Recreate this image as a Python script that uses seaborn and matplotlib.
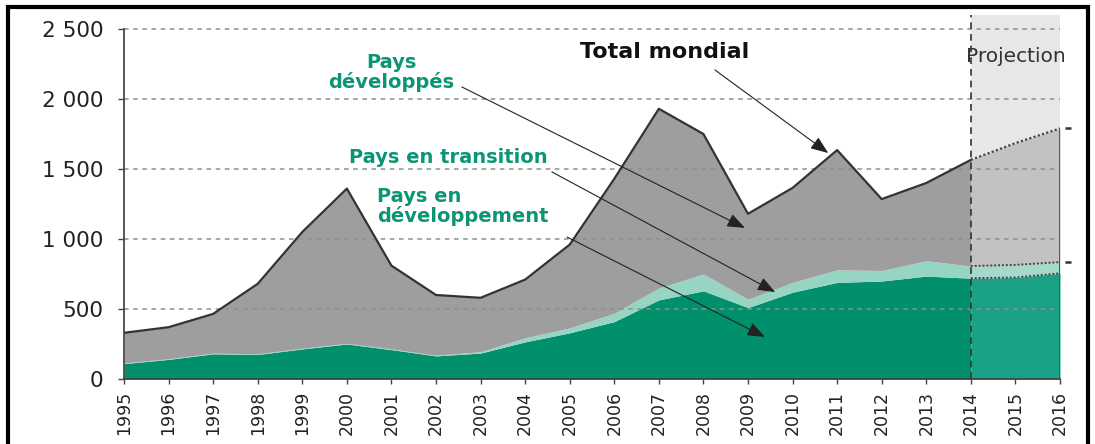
import numpy as np
import matplotlib
matplotlib.use("Agg")
import matplotlib.pyplot as plt
import seaborn as sns
import pandas as pd
from matplotlib.patches import Rectangle

# ---- data ----
years = list(range(1995, 2017))
total = [330, 370, 465, 680, 1050, 1360, 810, 600, 580, 710, 960, 1430,
         1930, 1750, 1180, 1365, 1635, 1285, 1400, 1565, 1685, 1790]
developing = [110, 140, 180, 175, 215, 250, 210, 165, 185, 265, 330, 410,
              565, 630, 510, 620, 690, 700, 735, 720, 725, 755]
transition = [5, 5, 5, 5, 5, 5, 5, 5, 10, 30, 35, 60,
              85, 120, 60, 70, 90, 75, 110, 87, 90, 80]
proj_start = 2014
y_ticks = [0, 500, 1000, 1500, 2000, 2500]
y_tick_labels = ["0", "500", "1 000", "1 500", "2 000", "2 500"]

df = pd.DataFrame({"year": years, "total": total,
                   "developing": developing, "transition": transition})
df["dev_trans"] = df["developing"] + df["transition"]
hist = df[df["year"] <= proj_start]
proj = df[df["year"] >= proj_start]

sns.set_theme(style="white")
plt.rcParams["font.family"] = ["DejaVu Sans"]

fig = plt.figure(figsize=(10.95, 4.44), dpi=100)
ax = fig.add_axes([124 / 1095, 1 - 379 / 444, (1060 - 124) / 1095, (379 - 15) / 444])

GRAY = "#9d9e9d"
GREEN = "#00906b"
TEAL = "#96d4c4"
P_GRAY = "#c1c2c1"
P_GREEN = "#1ba286"
P_TEAL = "#a6d9cb"
BG = "#e6e7e7"
TXT_GREEN = "#0a9674"

# projection background
ax.axvspan(proj_start, years[-1], color=BG, zorder=0, lw=0)

# historical stacked areas
ax.fill_between(hist["year"], 0, hist["developing"], color=GREEN, lw=0, zorder=2)
ax.fill_between(hist["year"], hist["developing"], hist["dev_trans"], color=TEAL, lw=0, zorder=2)
ax.fill_between(hist["year"], hist["dev_trans"], hist["total"], color=GRAY, lw=0, zorder=2)
# projection areas
ax.fill_between(proj["year"], 0, proj["developing"], color=P_GREEN, lw=0, zorder=2)
ax.fill_between(proj["year"], proj["developing"], proj["dev_trans"], color=P_TEAL, lw=0, zorder=2)
ax.fill_between(proj["year"], proj["dev_trans"], proj["total"], color=P_GRAY, lw=0, zorder=2)

# lines
sns.lineplot(data=hist, x="year", y="total", color="#333333", lw=1.6, ax=ax, zorder=4)
sns.lineplot(data=proj, x="year", y="total", color="#444444", lw=1.6, ls=(0, (1, 1)), ax=ax, zorder=4)
sns.lineplot(data=proj, x="year", y="dev_trans", color="#444444", lw=1.4, ls=(0, (1, 1)), ax=ax, zorder=4)
sns.lineplot(data=proj, x="year", y="developing", color="#444444", lw=1.4, ls=(0, (1, 1)), ax=ax, zorder=4)
ax.vlines(years[-1], 0, total[-1], color="#555555", lw=1.4, zorder=4)

# small marks at the right edge
ax.plot([years[-1] + 0.17] * 2, [total[-1], df["dev_trans"].iloc[-1]], ls="none",
        marker="_", ms=4, mew=1.8, color="#333333", clip_on=False, zorder=5)

# projection divider
ax.axvline(proj_start, color="#333333", lw=1.2, ls=(0, (4, 3)), zorder=5)

# grid
for yv in y_ticks[1:]:
    ax.axhline(yv, color="#8f8f8f", lw=1.1, ls=(0, (3, 3)), zorder=3)

ax.set_xlim(years[0], years[-1])
ax.set_ylim(0, 2600)
ax.set_yticks(y_ticks)
ax.set_yticklabels(y_tick_labels)
ax.set_xticks(years)
ax.set_xticklabels([str(y) for y in years], rotation=90)
ax.tick_params(axis="y", length=4, width=1, color="#444444", labelsize=15.5,
               labelcolor="#222222", pad=11, left=True)
ax.tick_params(axis="x", length=3.5, width=1, color="#444444", labelsize=12.5,
               labelcolor="#222222", pad=5, bottom=True)
for s in ["top", "right"]:
    ax.spines[s].set_visible(False)
ax.spines["left"].set_bounds(0, 2500)
ax.spines["left"].set_color("#444444")
ax.spines["bottom"].set_color("#444444")
ax.spines["left"].set_zorder(6)
ax.spines["bottom"].set_zorder(6)
ax.set_xlabel("")
ax.set_ylabel("")
ax.set_facecolor("white")

# annotations
arrow = dict(arrowstyle="-|>,head_length=0.9,head_width=0.35", color="#222222",
             lw=0.8, shrinkA=0, shrinkB=0)
ax.text(2007.14, 2336, "Total mondial", fontsize=16, fontweight="bold",
        color="#111111", ha="center", va="center", zorder=7)
ax.annotate("", xy=(2010.8, 1614), xytext=(2008.26, 2207), arrowprops=arrow, zorder=7)

ax.text(2001.0, 2186, "Pays\ndéveloppés", fontsize=14, fontweight="bold",
        color=TXT_GREEN, ha="center", va="center", linespacing=1.0, zorder=7)
ax.annotate("", xy=(2008.93, 1079), xytext=(2002.58, 2086), arrowprops=arrow, zorder=7)

ax.text(2002.27, 1579, "Pays en transition", fontsize=14, fontweight="bold",
        color=TXT_GREEN, ha="center", va="center", zorder=7)
ax.annotate("", xy=(2009.61, 621), xytext=(2004.6, 1479), arrowprops=arrow, zorder=7)

ax.text(2000.68, 1229, "Pays en\ndéveloppement", fontsize=14, fontweight="bold",
        color=TXT_GREEN, ha="left", va="center", linespacing=1.0, zorder=7,
        bbox=dict(facecolor="white", edgecolor="none", pad=1))
ax.annotate("", xy=(2009.38, 300), xytext=(2004.94, 1014), arrowprops=arrow, zorder=7)

ax.text(2015.0, 2300, "Projection", fontsize=14.5, color="#333333",
        ha="center", va="center", zorder=7)

# outer frame
fig.patches.append(Rectangle((8 / 1095, -0.1), (1088 - 8) / 1095, 1.1 - 7 / 444,
                             transform=fig.transFigure, fill=False,
                             edgecolor="black", lw=3))

fig.savefig("out.png", dpi=100)
